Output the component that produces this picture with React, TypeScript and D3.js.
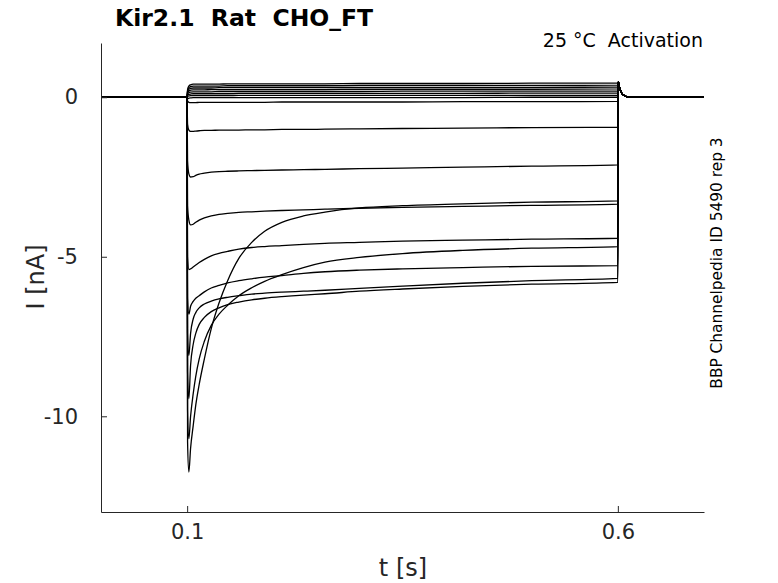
import { useEffect, useRef } from 'react';
import * as d3 from 'd3';

// sample times (s) shared by every sweep during the voltage step
const stepTimes = [0.1005, 0.102, 0.104, 0.107, 0.11, 0.114, 0.12, 0.128, 0.137, 0.147, 0.16, 0.175, 0.19, 0.21, 0.235, 0.26, 0.3, 0.35, 0.42, 0.5, 0.6];

// holding level before the step and the tail after it
const holdTimes = [0, 0.0998];
const holdCurrents = [0, 0];
const tailTimes = [0.6005, 0.602, 0.604, 0.607, 0.61, 0.614, 0.62, 0.7];
const tailCurrents = [0.48, 0.3, 0.15, 0.06, 0.02, 0.005, 0, 0];

// currents (nA) during the step, one array per sweep
const sweep01 = [0.24, 0.35, 0.39, 0.41, 0.41, 0.41, 0.41, 0.41, 0.41, 0.42, 0.42, 0.42, 0.42, 0.42, 0.42, 0.42, 0.43, 0.43, 0.43, 0.44, 0.44];
const sweep02 = [0.2, 0.3, 0.33, 0.35, 0.35, 0.35, 0.35, 0.35, 0.35, 0.36, 0.36, 0.36, 0.36, 0.36, 0.36, 0.36, 0.37, 0.37, 0.37, 0.37, 0.38];
const sweep03 = [0.17, 0.25, 0.28, 0.29, 0.29, 0.29, 0.29, 0.29, 0.3, 0.3, 0.3, 0.3, 0.3, 0.3, 0.3, 0.3, 0.31, 0.31, 0.31, 0.31, 0.32];
const sweep04 = [0.13, 0.2, 0.22, 0.23, 0.23, 0.23, 0.23, 0.24, 0.24, 0.24, 0.24, 0.24, 0.24, 0.24, 0.24, 0.24, 0.25, 0.25, 0.25, 0.25, 0.26];
const sweep05 = [0.1, 0.14, 0.16, 0.17, 0.17, 0.17, 0.17, 0.17, 0.18, 0.18, 0.18, 0.18, 0.18, 0.18, 0.18, 0.18, 0.18, 0.19, 0.19, 0.19, 0.19];
const sweep06 = [0.06, 0.09, 0.1, 0.11, 0.11, 0.11, 0.11, 0.11, 0.11, 0.11, 0.12, 0.12, 0.12, 0.12, 0.12, 0.12, 0.12, 0.12, 0.12, 0.13, 0.13];
const sweep07 = [0.03, 0.04, 0.05, 0.05, 0.05, 0.05, 0.05, 0.05, 0.05, 0.05, 0.06, 0.06, 0.06, 0.06, 0.06, 0.06, 0.06, 0.06, 0.06, 0.06, 0.06];
const sweep08 = [-0.05, -0.03, -0.02, -0.01, -0.01, -0.01, -0.01, -0.01, -0.01, -0.01, -0.01, -0.01, -0.01, -0.01, -0.01, -0.01, -0.01, -0.01, -0.01, 0, 0];
const sweep09 = [-0.12, -0.16, -0.17, -0.17, -0.17, -0.16, -0.16, -0.16, -0.16, -0.16, -0.16, -0.16, -0.16, -0.15, -0.15, -0.15, -0.15, -0.15, -0.14, -0.14, -0.13];
const sweep10 = [-0.85, -1.03, -1.07, -1.07, -1.06, -1.05, -1.04, -1.04, -1.03, -1.03, -1.03, -1.02, -1.02, -1.01, -1.01, -1.0, -0.99, -0.98, -0.97, -0.95, -0.94];
const sweep11 = [-2.0, -2.4, -2.5, -2.49, -2.45, -2.41, -2.38, -2.35, -2.33, -2.32, -2.31, -2.3, -2.29, -2.28, -2.27, -2.26, -2.24, -2.22, -2.19, -2.16, -2.12];
const sweep12 = [-3.4, -3.85, -4.0, -3.98, -3.92, -3.85, -3.78, -3.72, -3.67, -3.64, -3.61, -3.59, -3.57, -3.55, -3.53, -3.51, -3.48, -3.45, -3.42, -3.39, -3.35];
const sweep13 = [-5.0, -5.4, -5.38, -5.32, -5.26, -5.18, -5.08, -4.97, -4.89, -4.83, -4.76, -4.71, -4.68, -4.65, -4.61, -4.58, -4.55, -4.51, -4.48, -4.45, -4.42];
const sweep14 = [-6.3, -6.8, -6.55, -6.4, -6.3, -6.22, -6.1, -5.98, -5.9, -5.82, -5.75, -5.69, -5.64, -5.59, -5.52, -5.47, -5.42, -5.38, -5.34, -5.3, -5.28];
const sweep15 = [-7.4, -8.1, -7.4, -6.95, -6.75, -6.6, -6.48, -6.39, -6.32, -6.27, -6.22, -6.17, -6.14, -6.11, -6.08, -6.05, -5.99, -5.92, -5.83, -5.75, -5.68];
const sweep16 = [-8.6, -9.45, -8.4, -7.75, -7.4, -7.12, -6.9, -6.72, -6.6, -6.5, -6.42, -6.35, -6.3, -6.25, -6.2, -6.16, -6.08, -6.01, -5.93, -5.86, -5.8];
const sweep17 = [-9.8, -10.7, -10.0, -9.3, -8.75, -8.2, -7.65, -7.15, -6.8, -6.52, -6.22, -5.97, -5.77, -5.56, -5.34, -5.17, -5.02, -4.9, -4.8, -4.73, -4.68];
const sweep18 = [-10.8, -11.75, -11.0, -10.3, -9.65, -9.0, -8.2, -7.25, -6.45, -5.75, -5.05, -4.55, -4.2, -3.92, -3.72, -3.6, -3.47, -3.4, -3.34, -3.29, -3.25];

const sweeps = [sweep01, sweep02, sweep03, sweep04, sweep05, sweep06, sweep07, sweep08, sweep09,
  sweep10, sweep11, sweep12, sweep13, sweep14, sweep15, sweep16, sweep17, sweep18];

const xTicks = [0.1, 0.6];
const yTicks = [0, -5, -10];

const FONT = "'DejaVu Sans', sans-serif";
const AXIS_COLOR = '#262626';

export default function App() {
  const svgRef = useRef<SVGSVGElement>(null);

  useEffect(() => {
    if (!svgRef.current) return;
    const svg = d3.select(svgRef.current);
    svg.selectAll('*').remove();

    const x = d3.scaleLinear().domain([0, 0.7]).range([101, 704]);
    const y = d3.scaleLinear().domain([-13, 1.7]).range([512, 43]);

    const line = d3.line<[number, number]>()
      .x(d => x(d[0]))
      .y(d => y(d[1]))
      .curve(d3.curveMonotoneX);

    // build each sweep: holding -> step -> tail
    const traces = sweeps.map(vals => {
      const pts: [number, number][] = [];
      holdTimes.forEach((t, i) => pts.push([t, holdCurrents[i]]));
      stepTimes.forEach((t, i) => pts.push([t, vals[i]]));
      tailTimes.forEach((t, i) => pts.push([t, tailCurrents[i]]));
      return pts;
    });

    svg.append('g')
      .selectAll('path')
      .data(traces)
      .enter()
      .append('path')
      .attr('d', d => line(d))
      .attr('fill', 'none')
      .attr('stroke', '#000')
      .attr('stroke-width', 1.3)
      .attr('stroke-linejoin', 'round');

    // x axis
    const gx = svg.append('g')
      .attr('transform', 'translate(0,512)')
      .call(d3.axisBottom(x).tickValues(xTicks).tickSizeInner(-6).tickSizeOuter(0).tickPadding(12).tickFormat(d => String(d)));
    gx.select('.domain').attr('stroke', AXIS_COLOR);
    gx.selectAll('.tick line').attr('stroke', AXIS_COLOR);
    gx.selectAll('.tick text')
      .attr('fill', AXIS_COLOR)
      .style('font-family', FONT)
      .style('font-size', '21px');

    // y axis
    const gy = svg.append('g')
      .attr('transform', 'translate(101,0)')
      .call(d3.axisLeft(y).tickValues(yTicks).tickSizeInner(-6).tickSizeOuter(0).tickPadding(23).tickFormat(d => String(d)));
    gy.select('.domain').attr('stroke', AXIS_COLOR);
    gy.selectAll('.tick line').attr('stroke', AXIS_COLOR);
    gy.selectAll('.tick text')
      .attr('fill', AXIS_COLOR)
      .style('font-family', FONT)
      .style('font-size', '21px');

    // axis labels
    svg.append('text')
      .attr('x', 403)
      .attr('y', 576)
      .attr('text-anchor', 'middle')
      .attr('fill', AXIS_COLOR)
      .style('font-family', FONT)
      .style('font-size', '24px')
      .text('t [s]');

    svg.append('text')
      .attr('transform', 'translate(44,277) rotate(-90)')
      .attr('text-anchor', 'middle')
      .attr('fill', AXIS_COLOR)
      .style('font-family', FONT)
      .style('font-size', '24px')
      .text('I [nA]');

    // title + annotations
    svg.append('text')
      .attr('x', 115)
      .attr('y', 26)
      .attr('fill', '#000')
      .style('font-family', FONT)
      .style('font-size', '23.5px')
      .style('font-weight', 'bold')
      .style('white-space', 'pre')
      .text('Kir2.1  Rat  CHO_FT');

    svg.append('text')
      .attr('x', 703)
      .attr('y', 47)
      .attr('text-anchor', 'end')
      .attr('fill', '#000')
      .style('font-family', FONT)
      .style('font-size', '19px')
      .style('white-space', 'pre')
      .text('25 °C  Activation');

    svg.append('text')
      .attr('transform', 'translate(722,263) rotate(-90)')
      .attr('text-anchor', 'middle')
      .attr('fill', '#000')
      .style('font-family', FONT)
      .style('font-size', '15.4px')
      .text('BBP Channelpedia ID 5490 rep 3');
  }, []);

  return (
    <svg
      ref={svgRef}
      width={778}
      height={583}
      style={{ position: 'absolute', left: 0, top: 0, background: '#fff' }}
    />
  );
}
